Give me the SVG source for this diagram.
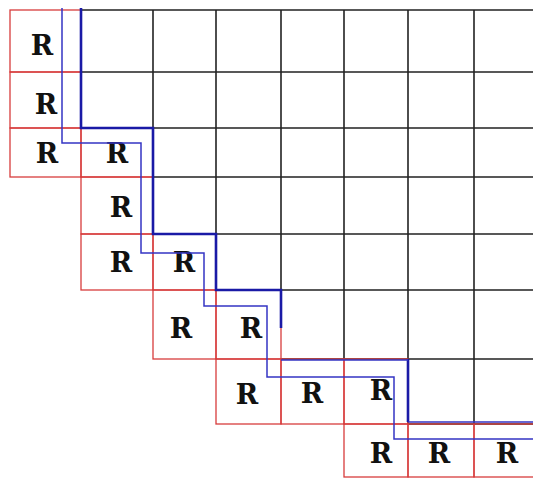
<svg xmlns="http://www.w3.org/2000/svg" width="533" height="478" viewBox="0 0 533 478">
<style>
.grid{stroke:#222;stroke-width:1.6;fill:none}
.red{stroke:#d83c3c;stroke-width:1.3;fill:none}
.thick{stroke:#1a1aa6;stroke-width:2.6;fill:none}
.thin{stroke:#3434c4;stroke-width:1.5;fill:none}
.r{font-family:"DejaVu Serif","Liberation Serif",serif;font-size:27px;font-weight:bold;fill:#111;text-anchor:middle}
</style>
<rect width="533" height="478" fill="#fff"/>
<g id="grid">
<path class="grid" d="M81,10H533M81,72H533M81,128H533M153,177H533M153,234H533M216,290H533M281,359H533M408,424H533M81,10V128M153,10V234M216,10V290M281,10V290M344,10V359M408,10V424M474,10V424"/>
</g>
<g id="cells">
<g id="c00"><rect class="red" x="10" y="10" width="71" height="62"/><text class="r" x="42" y="55">R</text></g>
<g id="c10"><rect class="red" x="10" y="72" width="71" height="56"/><text class="r" x="46" y="114">R</text></g>
<g id="c20"><rect class="red" x="10" y="128" width="71" height="49"/><text class="r" x="47" y="163">R</text></g>
<g id="c21"><rect class="red" x="81" y="128" width="72" height="49"/><text class="r" x="117" y="163">R</text></g>
<g id="c31"><rect class="red" x="81" y="177" width="72" height="57"/><text class="r" x="121" y="217">R</text></g>
<g id="c41"><rect class="red" x="81" y="234" width="72" height="56"/><text class="r" x="121" y="272">R</text></g>
<g id="c42"><rect class="red" x="153" y="234" width="63" height="56"/><text class="r" x="184" y="272">R</text></g>
<g id="c52"><rect class="red" x="153" y="290" width="63" height="69"/><text class="r" x="181" y="338">R</text></g>
<g id="c53"><rect class="red" x="216" y="290" width="65" height="69"/><text class="r" x="251" y="338">R</text></g>
<g id="c63"><rect class="red" x="216" y="359" width="65" height="65"/><text class="r" x="247" y="404">R</text></g>
<g id="c64"><rect class="red" x="281" y="359" width="63" height="65"/><text class="r" x="312" y="403">R</text></g>
<g id="c65"><rect class="red" x="344" y="359" width="64" height="65"/><text class="r" x="381" y="400">R</text></g>
<g id="c75"><rect class="red" x="344" y="424" width="64" height="53"/><text class="r" x="381" y="463">R</text></g>
<g id="c76"><rect class="red" x="408" y="424" width="66" height="53"/><text class="r" x="439" y="463">R</text></g>
<g id="c77"><rect class="red" x="474" y="424" width="80" height="53"/><text class="r" x="507" y="463">R</text></g>
</g>
<g id="connectors">
<path class="thick" d="M81,8V128H153V234H216V290H281V328"/>
<path class="thick" d="M408,359V422"/>
<path class="thin" d="M281,360H408M408,422H533"/>
<path class="thin" d="M62,8V143H141V253H204V306H267V377H394V439H533"/>
</g>
</svg>
